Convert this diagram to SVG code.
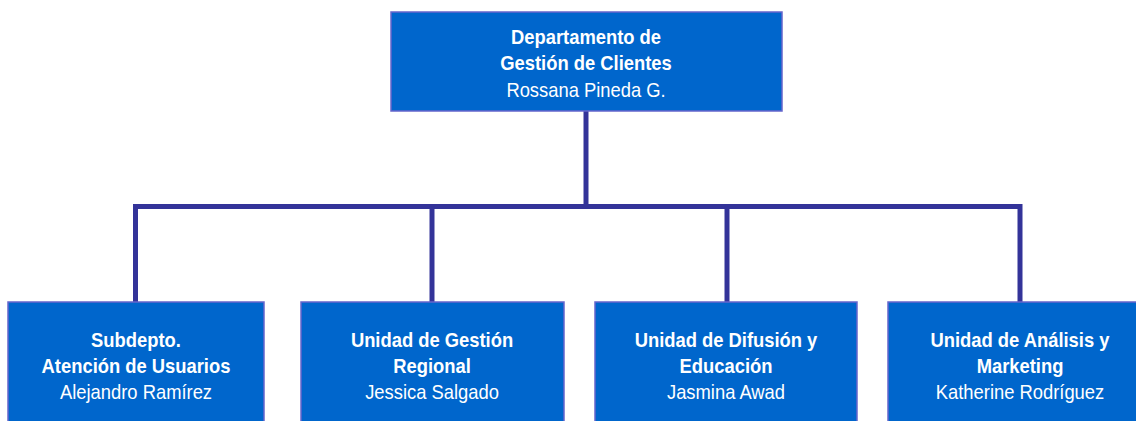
<svg xmlns="http://www.w3.org/2000/svg" width="1136" height="421" viewBox="0 0 1136 421">
<style>
.box{fill:#0066CC;stroke:#6666CC;stroke-width:1.5}
.t{font-family:"Liberation Sans",Arial,sans-serif;font-size:21px;fill:#FFFFFF;text-anchor:middle}
.b{font-weight:bold}
.ln{fill:none;stroke:#333399;stroke-width:5}
</style>
<rect width="1136" height="421" fill="#FFFFFF"/>
<g id="connectors">
<path class="ln" d="M586,111 V206.5"/>
<path class="ln" d="M135.5,302 V206.5 H1020 V302"/>
<path class="ln" d="M432,206.5 V302"/>
<path class="ln" d="M727,206.5 V302"/>
</g>
<g id="n0">
<rect class="box" x="391" y="12" width="391" height="99"/>
<g transform="translate(586,0) scale(0.875,1)">
<text class="t b" x="0" y="44">Departamento de</text>
<text class="t b" x="0" y="70">Gestión de Clientes</text>
<text class="t" x="0" y="97">Rossana Pineda  G.</text>
</g>
</g>
<g id="n1">
<rect class="box" x="8" y="302" width="256" height="130"/>
<g transform="translate(136,0) scale(0.875,1)">
<text class="t b" x="0" y="347">Subdepto.</text>
<text class="t b" x="0" y="373">Atención de Usuarios</text>
<text class="t" x="0" y="399">Alejandro Ramírez</text>
</g>
</g>
<g id="n2">
<rect class="box" x="301" y="302" width="263" height="130"/>
<g transform="translate(432,0) scale(0.875,1)">
<text class="t b" x="0" y="347">Unidad de Gestión</text>
<text class="t b" x="0" y="373">Regional</text>
<text class="t" x="0" y="399">Jessica  Salgado</text>
</g>
</g>
<g id="n3">
<rect class="box" x="595" y="302" width="262" height="130"/>
<g transform="translate(726,0) scale(0.875,1)">
<text class="t b" x="0" y="347">Unidad de Difusión y</text>
<text class="t b" x="0" y="373">Educación</text>
<text class="t" x="0" y="399">Jasmina  Awad</text>
</g>
</g>
<g id="n4">
<rect class="box" x="888" y="302" width="264" height="130"/>
<g transform="translate(1020,0) scale(0.875,1)">
<text class="t b" x="0" y="347">Unidad de Análisis y</text>
<text class="t b" x="0" y="373">Marketing</text>
<text class="t" x="0" y="399">Katherine Rodríguez</text>
</g>
</g>
</svg>
